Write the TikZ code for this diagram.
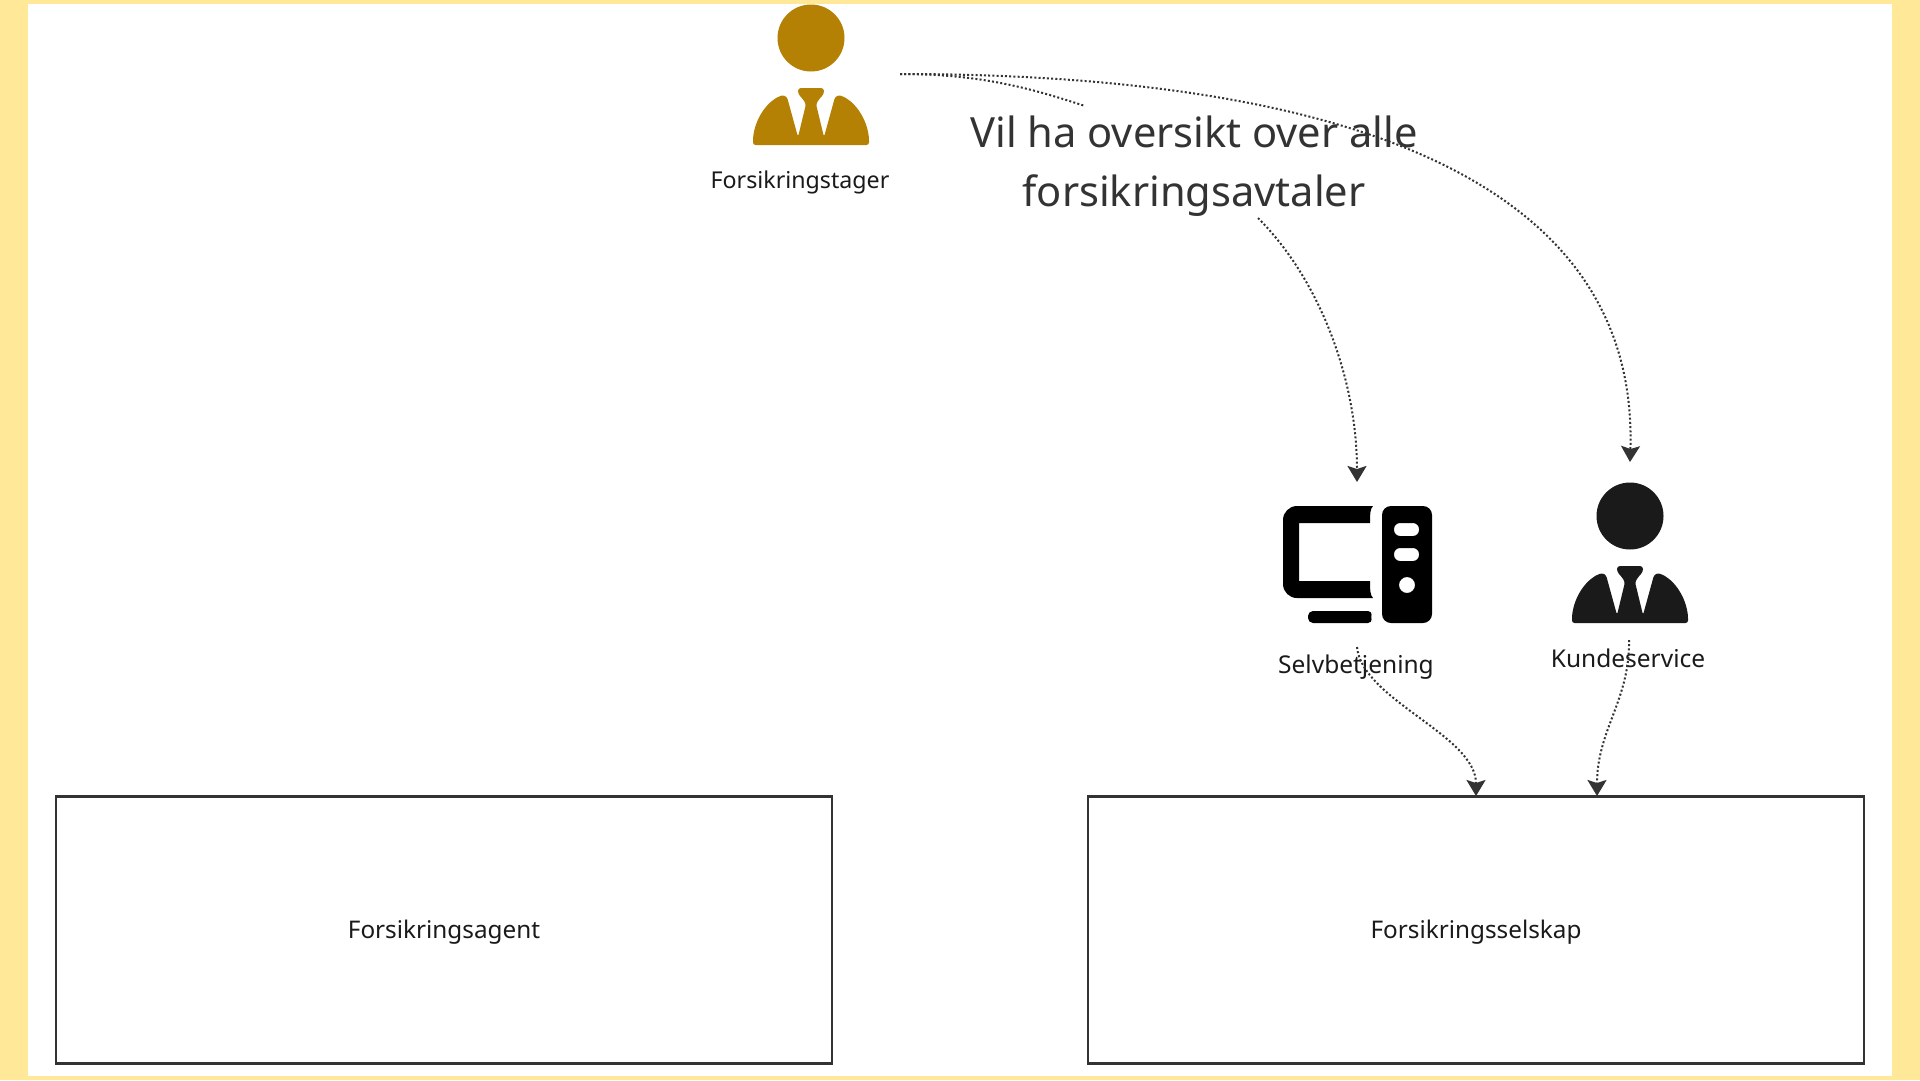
\documentclass[tikz,border=0pt]{standalone}
\usepackage{fontspec}
\setmainfont{Noto Sans}
\usetikzlibrary{arrows.meta}
\definecolor{bgyellow}{HTML}{FFE999}
\definecolor{gold}{HTML}{B58105}
\definecolor{inkdark}{HTML}{1A1A1A}
\definecolor{linedark}{HTML}{333333}
\tikzset{
  x=1pt,y=-1pt,
  flow/.style={draw=linedark,line width=2pt,dash pattern=on 2pt off 2.2pt},
  arrowflow/.style={flow,-{Stealth[length=16pt,width=19pt,inset=3pt,sep=0pt]}},
  boxnode/.style={draw=linedark,line width=2.5pt,fill=white,minimum width=776pt,minimum height=267pt,inner sep=0pt,font=\fontsize{24.3}{29}\selectfont,text=inkdark,text depth=0pt,text height=16.5pt},
  caption/.style={inner sep=0pt,anchor=base,font=\fontsize{24.5}{29}\selectfont,text=inkdark},
  person/.pic={
    \fill (0,0) circle[radius=33.5];
    \fill[rounded corners=2.5pt] (-52,107) -- (-58,107) -- (-58,100)
      .. controls (-55,78) and (-42,62) .. (-28,57) -- (-24,59) -- (-13,99) -- (-5,66) -- (-9,60) [rounded corners=3pt] -- (-13,56) -- (-13,50)
      -- (13,50) -- (13,56) [rounded corners=2.5pt] -- (9,60) -- (5,66) -- (13,99) -- (24,59) -- (28,57)
      .. controls (42,62) and (55,78) .. (58,100) -- (58,107) -- (52,107) -- cycle;
  }
}
\begin{document}
\begin{tikzpicture}
\useasboundingbox (0,0) rectangle (1920,1080);
\fill[bgyellow] (0,0) rectangle (1920,1080);
\fill[white] (28,4) rectangle (1892,1076);

\node[boxnode] (agent) at (444,930) {Forsikringsagent};
\node[boxnode] (selskap) at (1476,930) {Forsikringsselskap};

\pic[gold] at (811,38) {person};
\pic[inkdark] at (1630,516) {person};

% computer
\fill[black]
  (1373,506) [rounded corners=14pt] -- (1283,506) -- (1283,598) [sharp corners] -- (1373,598)
  .. controls (1370,595) and (1370,590) .. (1370,581) -- (1299,581) -- (1299,523) -- (1370,523)
  .. controls (1370,514) and (1370,509) .. (1373,506) -- cycle;
\fill[black,rounded corners=5pt] (1308,611) -- (1373,611) -- (1370,617) -- (1373,623) -- (1308,623) -- cycle;
\fill[black,even odd rule] [rounded corners=9pt] (1382,506) rectangle (1432,623)
  [rounded corners=6pt] (1394,523) rectangle (1419,536) (1394,548) rectangle (1419,561)
  [sharp corners] (1407,585) circle[radius=8];

\node[caption,font=\fontsize{23.2}{29}\selectfont] (tager) at (800,188) {Forsikringstager};
\node[caption] (selv) at (1356,673) {Selvbetjening};
\node[caption] (kunde) at (1628,667) {Kundeservice};
\node[inner sep=0pt,anchor=base,align=center,text=linedark,font=\fontsize{41.6}{59}\selectfont] (need) at (1194,206) {Vil ha oversikt over alle\\forsikringsavtaler};

\coordinate (tagerout) at (900,74);
\coordinate (needin) at (1085,106);
\coordinate (needout) at (1258,218);
\coordinate (selvin) at (1357,482);
\coordinate (kundein) at (1630,462);
\coordinate (selvout) at (1357,647);
\coordinate (kundeout) at (1629,640);
\coordinate (selskapa) at (1476,796);
\coordinate (selskapb) at (1597,796);

\draw[flow] (tagerout) .. controls (980,74) and (1030,88) .. (needin);
\draw[arrowflow] (tagerout) .. controls (1250,74) and (1640,140) .. (kundein);
\draw[arrowflow] (needout) .. controls (1320,280) and (1357,380) .. (selvin);
\draw[arrowflow] (selvout) .. controls (1362,700) and (1476,735) .. (selskapa);
\draw[arrowflow] (kundeout) .. controls (1630,700) and (1597,730) .. (selskapb);
\end{tikzpicture}
\end{document}
